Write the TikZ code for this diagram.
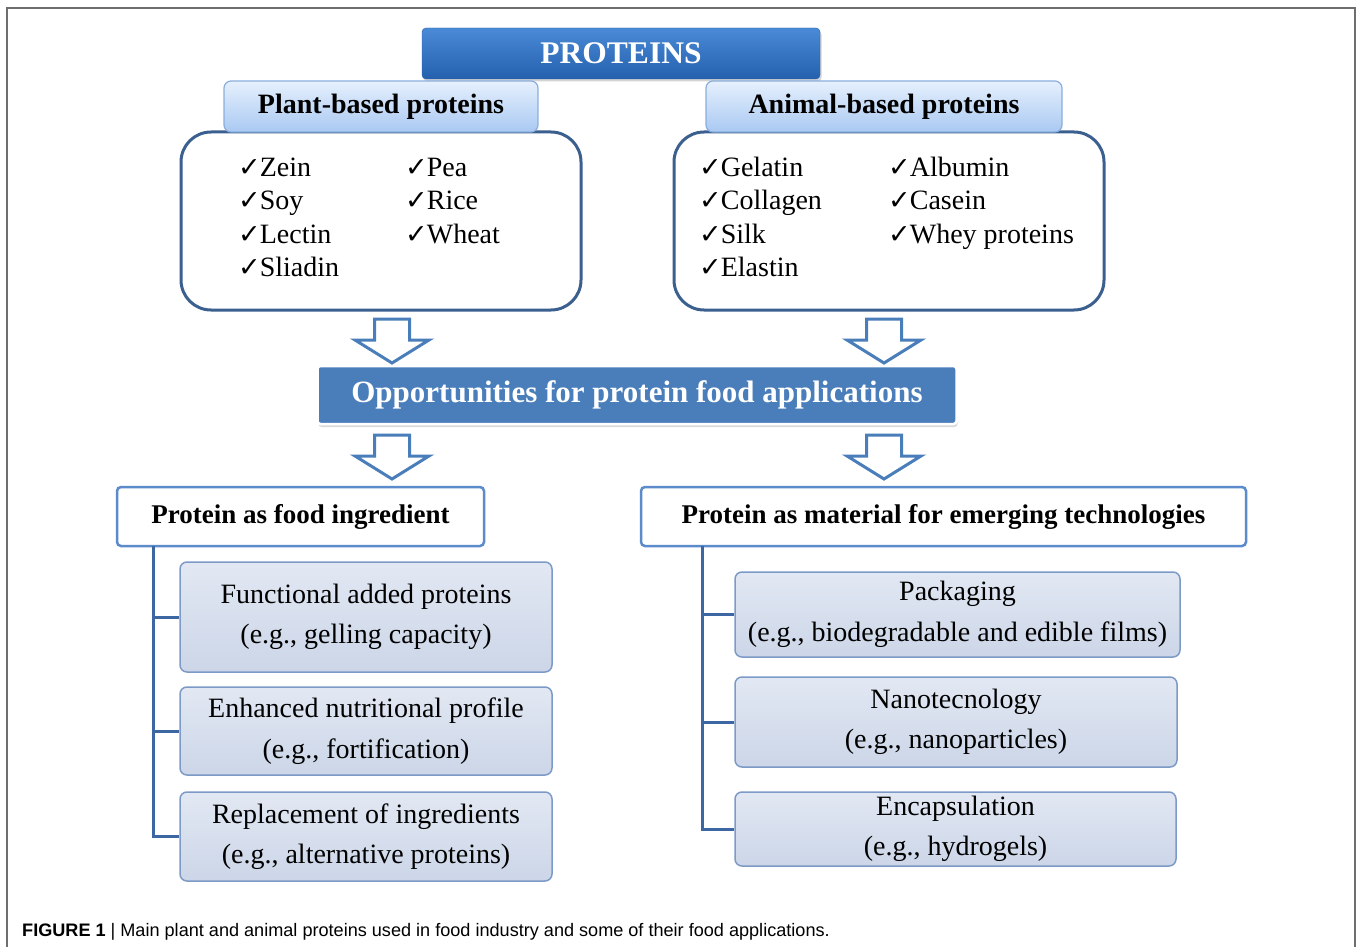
\documentclass[tikz,border=0pt]{standalone}
\usepackage{fontspec}
\setmainfont{Liberation Serif}
\setsansfont{Liberation Sans}
\newfontfamily\symfont{DejaVu Sans}
\usetikzlibrary{shadows}
\definecolor{frameGray}{HTML}{6E6E6E}
\definecolor{darkBlueTop}{HTML}{4A8AD6}
\definecolor{darkBlueBot}{HTML}{2460AE}
\definecolor{hdrTop}{HTML}{E6F0FD}
\definecolor{hdrBot}{HTML}{A9C9F2}
\definecolor{hdrLine}{HTML}{8AAEDD}
\definecolor{listLine}{HTML}{3B5F8E}
\definecolor{arrowBlue}{HTML}{4A7EBB}
\definecolor{oppBlue}{HTML}{4A7EBB}
\definecolor{catLine}{HTML}{5B8BCB}
\definecolor{treeBlue}{HTML}{3D67A3}
\definecolor{subTop}{HTML}{E2E8F3}
\definecolor{subBot}{HTML}{CCD6E8}
\definecolor{subLine}{HTML}{7D9AC6}
\newcommand{\ck}{{\symfont\fontsize{27}{27}\selectfont ✓}\kern-1pt}
\newcommand{\dn}[1]{\raisebox{-3pt}{#1}}
\tikzset{
  x=1pt, y=-1pt,
  topbox/.style={draw=darkBlueBot, rounded corners=4, top color=darkBlueTop, bottom color=darkBlueBot,
    drop shadow={shadow xshift=1.5, shadow yshift=2.5, opacity=0.35},
    text=white, font=\bfseries\fontsize{31.5}{31.5}\selectfont, inner sep=0},
  hdrbox/.style={draw=hdrLine, line width=1.2, rounded corners=7, top color=hdrTop, bottom color=hdrBot,
    font=\bfseries\fontsize{28}{28}\selectfont, inner sep=0},
  listbox/.style={draw=listLine, line width=3, rounded corners=30, fill=white, inner sep=0},
  item/.style={anchor=base west, font=\fontsize{28}{28}\selectfont, inner sep=0},
  oppbox/.style={draw=white, line width=2.5, rounded corners=3, fill=oppBlue, text=white,
    drop shadow={shadow xshift=1, shadow yshift=3, opacity=0.3},
    font=\bfseries\fontsize{31}{31}\selectfont, inner sep=0},
  catbox/.style={draw=catLine, line width=2.5, rounded corners=4, fill=white,
    font=\bfseries\fontsize{27}{27}\selectfont, inner sep=0},
  subbox/.style={draw=subLine, line width=1.5, rounded corners=7, top color=subTop, bottom color=subBot,
    font=\fontsize{28}{40.5}\selectfont, align=center, inner sep=0},
  tree/.style={draw=treeBlue, line width=3},
  hollowarrow/.pic={\draw[arrowBlue, line width=3, fill=white, line join=miter]
    (-17.5,0) -- (17.5,0) -- (17.5,21) -- (37,21) -- (0,44) -- (-37,21) -- (-17.5,21) -- cycle;},
}
\begin{document}
\begin{tikzpicture}
\useasboundingbox (0,0) rectangle (1358,947);
% outer frame
\draw[frameGray, line width=2.2] (7,947) -- (7,8) -- (1355,8) -- (1355,947);

% list boxes (drawn before headers)
\node[listbox, minimum width=400, minimum height=178] (plantlist) at (381,221) {};
\node[listbox, minimum width=430, minimum height=178] (animallist) at (889,221) {};

% top
\node[topbox, minimum width=398, minimum height=51] (proteins) at (621,53.5) {\raisebox{-1pt}{PROTEINS}};
\node[hdrbox, minimum width=314, minimum height=51] (planthdr) at (381,106.5) {\dn{Plant-based proteins}};
\node[hdrbox, minimum width=356, minimum height=51] (animalhdr) at (884,106.5) {\dn{Animal-based proteins}};

% plant items
\node[item] (p1) at (238,176) {\ck Zein};
\node[item] (p2) at (238,209) {\ck Soy};
\node[item] (p3) at (238,243) {\ck Lectin};
\node[item] (p4) at (238,276) {\ck Sliadin};
\node[item] (p5) at (405,176) {\ck Pea};
\node[item] (p6) at (405,209) {\ck Rice};
\node[item] (p7) at (405,243) {\ck Wheat};
% animal items
\node[item] (a1) at (699,176) {\ck Gelatin};
\node[item] (a2) at (699,209) {\ck Collagen};
\node[item] (a3) at (699,243) {\ck Silk};
\node[item] (a4) at (699,276) {\ck Elastin};
\node[item] (a5) at (888,176) {\ck Albumin};
\node[item] (a6) at (888,209) {\ck Casein};
\node[item] (a7) at (888,243) {\ck Whey proteins};

% opportunities
\node[oppbox, minimum width=639, minimum height=58] (opp) at (637,395) {\dn{Opportunities for protein food applications}};

% arrows
\coordinate (arrL1) at (392,319);
\coordinate (arrR1) at (884,319);
\coordinate (arrL2) at (392,435);
\coordinate (arrR2) at (884,435);
\pic at (arrL1) {hollowarrow};
\pic at (arrR1) {hollowarrow};
\pic at (arrL2) {hollowarrow};
\pic at (arrR2) {hollowarrow};

% category boxes
\node[catbox, minimum width=367, minimum height=59] (food) at (300.5,516.5) {\dn{Protein as food ingredient}};
\node[catbox, minimum width=605, minimum height=59] (tech) at (943.5,516.5) {\dn{Protein as material for emerging technologies}};

% left sub boxes
\node[subbox, minimum width=372, minimum height=110] (f1) at (366,617) {\dn{\shortstack{Functional added proteins\\[12pt](e.g., gelling capacity)}}};
\node[subbox, minimum width=372, minimum height=88] (f2) at (366,731) {Enhanced nutritional profile\\(e.g., fortification)};
\node[subbox, minimum width=372, minimum height=89] (f3) at (366,836.5) {Replacement of ingredients\\(e.g., alternative proteins)};

% right sub boxes
\node[subbox, minimum width=445, minimum height=85] (t1) at (957.5,614.5) {Packaging\\(e.g., biodegradable and edible films)};
\node[subbox, minimum width=442, minimum height=90] (t2) at (956,722) {Nanotecnology\\(e.g., nanoparticles)};
\node[subbox, minimum width=441, minimum height=74] (t3) at (955.5,829) {Encapsulation\\(e.g., hydrogels)};

% trees
\coordinate (fstem) at (153,546);
\coordinate (tstem) at (702,546);
\draw[tree] (fstem) |- (f3.west);
\draw[tree] (fstem |- f1.west) -- (f1.west);
\draw[tree] (fstem |- f2.west) -- (f2.west);
\draw[tree] (tstem) |- (t3.west);
\draw[tree] (tstem |- t1.west) -- (t1.west);
\draw[tree] (tstem |- t2.west) -- (t2.west);

% caption
\node[anchor=base west, inner sep=0, font=\sffamily\fontsize{18.1}{18.1}\selectfont] (caption) at (22,936)
  {\textbf{FIGURE 1} | Main plant and animal proteins used in food industry and some of their food applications.};
\end{tikzpicture}
\end{document}
